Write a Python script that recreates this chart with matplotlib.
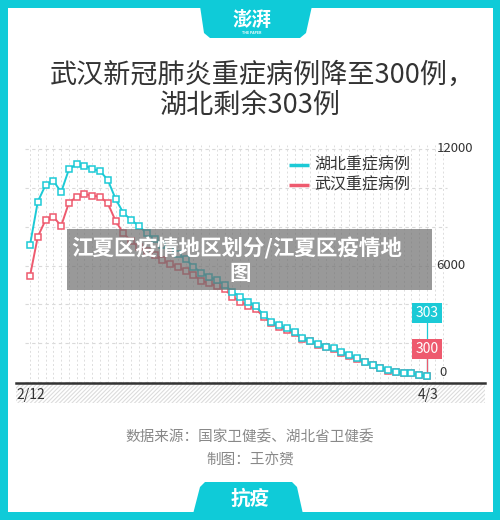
import matplotlib
matplotlib.use("Agg")
import matplotlib.pyplot as plt
from matplotlib.patches import Rectangle, Polygon
import numpy as np

plt.rcParams['font.family'] = ['Noto Sans CJK SC', 'DejaVu Sans']
plt.rcParams['hatch.linewidth'] = 0.8

# ---------------- data ----------------
title_lines = ["武汉新冠肺炎重症病例降至300例，", "湖北剩余303例"]
series_names = ["湖北重症病例", "武汉重症病例"]
start_label, end_label = "2/12", "4/3"
ytick_values = [0, 6000, 12000]
hubei = [7056, 9285, 10146, 10367, 9775, 10954, 11227, 11150, 10970, 10867,
         10403, 9424, 8703, 8343, 8034, 7658, 7365, 7056, 6798, 6592,
         6319, 5938, 5629, 5423, 5253, 4996, 4650, 4393, 4135, 3914,
         3450, 3105, 2936, 2766, 2590, 2250, 2127, 1957, 1818, 1736,
         1561, 1391, 1221, 1046, 876, 737, 618, 530, 479, 448,
         360, 303]
wuhan = [5459, 7483, 8343, 8513, 8034, 9234, 9543, 9682, 9594, 9543,
         9203, 8291, 7658, 7262, 6952, 6747, 6540, 6283, 6077, 5922,
         5716, 5510, 5217, 5083, 4944, 4774, 4393, 4135, 3914, 3760,
         3363, 3023, 2817, 2678, 2508, 2215, 2086, 1905, 1777, 1674,
         1519, 1339, 1185, 1030, 850, 721, 592, 515, 464, 438,
         350, 300]
source_text = "数据来源：国家卫健委、湖北省卫健委"
author_text = "制图：王亦赟"
watermark_lines = ["江夏区疫情地区划分/江夏区疫情地", "图"]
logo_text = "澎湃"
logo_sub = "THE PAPER"
bottom_tab_text = "抗疫"

CYAN = "#1ccad6"
RED = "#ee5a6e"
BORDER = "#0fcbd8"

W, H = 500, 520
fig = plt.figure(figsize=(W / 100, H / 100), dpi=100)
fig.patch.set_facecolor(BORDER)

def fx(x):
    return x / W

def fy(y):
    return 1 - y / H

# white card
card = Rectangle((fx(8), fy(512)), fx(493) - fx(8), fy(8) - fy(512),
                 transform=fig.transFigure, facecolor="white", edgecolor="none", zorder=-5)
fig.patches.append(card)

# top tab
top_tab = Polygon([(fx(200), fy(6)), (fx(312), fy(6)), (fx(306), fy(33)),
                   (fx(300), fy(38)), (fx(210), fy(38)), (fx(204), fy(33))],
                  closed=True, transform=fig.transFigure, facecolor=BORDER,
                  edgecolor="none", zorder=-4)
fig.patches.append(top_tab)
fig.text(fx(252), fy(20), logo_text, color="white", fontsize=14, fontweight="bold",
         fontstyle="italic", ha="center", va="center", zorder=2)
fig.text(fx(252), fy(33), logo_sub, color="white", fontsize=2.5, fontweight="bold",
         ha="center", va="center", zorder=2)

# bottom tab
bot_tab = Polygon([(fx(193), fy(514)), (fx(303), fy(514)), (fx(297), fy(487)),
                   (fx(292), fy(482)), (fx(205), fy(482)), (fx(200), fy(487))],
                  closed=True, transform=fig.transFigure, facecolor=BORDER,
                  edgecolor="none", zorder=-4)
fig.patches.append(bot_tab)
fig.text(fx(250), fy(499), bottom_tab_text, color="white", fontsize=14, fontweight="bold",
         ha="center", va="center", zorder=2)

# title
fig.text(fx(262), fy(75), title_lines[0], color="#333333", fontsize=19.5,
         fontweight="medium", ha="center", va="center")
fig.text(fx(250), fy(105), title_lines[1], color="#333333", fontsize=19.5,
         fontweight="medium", ha="center", va="center")

# footer
fig.text(fx(250), fy(437), source_text, color="#888888", fontsize=10.5,
         ha="center", va="center")
fig.text(fx(250), fy(461), author_text, color="#888888", fontsize=10.5,
         ha="center", va="center")

# ---------------- chart axes ----------------
ax_left, ax_right, ax_top, ax_bottom = 16, 485, 140, 383
ax = fig.add_axes([fx(ax_left), fy(ax_bottom), fx(ax_right) - fx(ax_left),
                   fy(ax_top) - fy(ax_bottom)])
ax.set_zorder(5)
ax.patch.set_visible(False)
for s in ax.spines.values():
    s.set_visible(False)
ax.set_xticks([])
ax.set_yticks([])

n = len(hubei)
px_per = (427 - 30) / (n - 1)
x0 = -(30 - ax_left) / px_per
x1 = (ax_right - 30) / px_per
vpp = 12000 / 233.0
y0 = -(ax_bottom - 382) * vpp
y1 = (382 - ax_top) * vpp
ax.set_xlim(x0, x1)
ax.set_ylim(y0, y1)

xs = np.arange(n)

# grid
for v in range(0, 12001, 2000):
    ax.plot([-0.7, n + 1.6], [v, v], color="#d9d9d9", lw=0.8, ls=(0, (3, 3)), zorder=1)
for i in range(0, n + 2):
    ax.plot([i, i], [y0, (382 - 145) * vpp], color="#dddddd", lw=0.7,
            ls=(0, (2, 2.5)), zorder=1)

# series
ax.plot(xs, wuhan, color=RED, lw=1.4, marker="s", ms=4.8, mfc="white",
        mec=RED, mew=1.1, zorder=3)
ax.plot(xs, hubei, color=CYAN, lw=1.4, marker="s", ms=4.8, mfc="white",
        mec=CYAN, mew=1.1, zorder=4)

# y tick labels (right)
for v in ytick_values:
    if v > 0:
        ax.text(n + 0.2, v, f"{v}", fontsize=9.5, color="#333333", ha="left", va="center")
    else:
        ax.text(n + 0.6, 180, f"{v}", fontsize=9.5, color="#333333", ha="left", va="bottom")

# legend
ax.plot([33.3, 35.9], [11200, 11200], color=CYAN, lw=2.5, solid_capstyle="butt")
ax.plot([33.3, 35.9], [10130, 10130], color=RED, lw=2.5, solid_capstyle="butt")
ax.text(36.5, 11200, series_names[0], fontsize=11.5, color="#333333", va="center")
ax.text(36.5, 10130, series_names[1], fontsize=11.5, color="#333333", va="center")

# end annotations
xe = n - 1
ax.plot([xe, xe], [hubei[-1], (382 - 313) * vpp], color=CYAN, lw=0.9, zorder=2)
ax.plot([xe, xe], [wuhan[-1], (382 - 349) * vpp], color=RED, lw=0.9, zorder=2.5)
ax.text(xe, (382 - 313) * vpp, f"{hubei[-1]}", fontsize=10, color="white",
        ha="center", va="center", zorder=5,
        bbox=dict(boxstyle="square,pad=0.22", facecolor=CYAN, edgecolor="none"))
ax.text(xe, (382 - 349) * vpp, f"{wuhan[-1]}", fontsize=10, color="white",
        ha="center", va="center", zorder=5,
        bbox=dict(boxstyle="square,pad=0.22", facecolor=RED, edgecolor="none"))

# x-axis baseline and hatch band
fig.patches.append(Rectangle((fx(16), fy(403)), fx(485) - fx(16), fy(383) - fy(403),
                             transform=fig.transFigure, facecolor="white",
                             edgecolor="#dcdcdc", hatch="////////", lw=0, zorder=1))
fig.lines.append(plt.Line2D([fx(16), fx(485)], [fy(383), fy(383)],
                            transform=fig.transFigure, color="#333333", lw=1.8, zorder=6))
fig.text(fx(16), fy(395), start_label, fontsize=10, color="#333333", ha="left", va="center")
fig.text(fx(438), fy(395), end_label, fontsize=10, color="#333333", ha="right", va="center")

# watermark overlay
fig.patches.append(Rectangle((fx(67), fy(290)), fx(432) - fx(67), fy(229) - fy(290),
                             transform=fig.transFigure, facecolor="#6e6e6e",
                             alpha=0.7, edgecolor="none", zorder=10))
fig.text(fx(237), fy(248), watermark_lines[0], fontsize=15.5, fontweight="bold",
         color="white", ha="center", va="center", zorder=11)
fig.text(fx(240), fy(273), watermark_lines[1], fontsize=15.5, fontweight="bold",
         color="white", ha="center", va="center", zorder=11)

fig.savefig("out.png", dpi=100, facecolor=fig.get_facecolor())
